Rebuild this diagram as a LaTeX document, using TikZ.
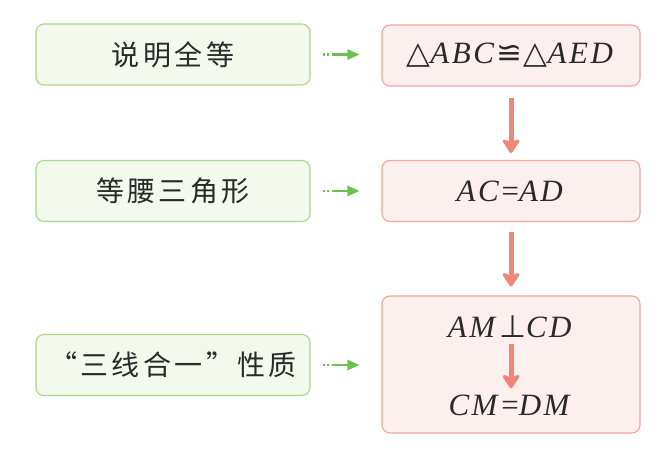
\documentclass[tikz,border=0pt]{standalone}
\usepackage{fontspec}
\setmainfont{Liberation Serif}[LetterSpace=8]
\newfontfamily\cjk{Noto Sans CJK SC}[LetterSpace=12]
\newfontfamily\sym{DejaVu Sans}[LetterSpace=4]
\usetikzlibrary{arrows.meta}
\definecolor{gfill}{HTML}{F3F9EC}
\definecolor{gline}{HTML}{A8D88A}
\definecolor{rfill}{HTML}{FCF0EE}
\definecolor{rline}{HTML}{F2A59A}
\definecolor{rarrow}{HTML}{F2857A}
\definecolor{garrow}{HTML}{6CC050}
\definecolor{ink}{HTML}{2A2A2A}
\tikzset{
  gbox/.style={draw=gline, fill=gfill, line width=1.1pt, rounded corners=8pt,
    minimum width=274pt, minimum height=61pt, inner sep=0pt, text=ink,
    font=\cjk\fontsize{28}{30}\selectfont},
  rbox/.style={draw=rline, fill=rfill, line width=1.1pt, rounded corners=8pt,
    minimum width=258pt, minimum height=61pt, inner sep=0pt, text=ink,
    font=\fontsize{31}{34}\selectfont},
  mtext/.style={inner sep=0pt, text=ink, font=\fontsize{31}{34}\selectfont},
  redarrow/.style={draw=rarrow, line width=5pt,
    -{Stealth[width=21pt,length=16pt,inset=4pt,round]}},
  greenarrow/.style={draw=garrow, line width=2.5pt,
    dash pattern=on 2pt off 2.5pt on 2pt off 3pt on 30pt off 60pt,
    -{Triangle[width=10pt,length=12pt]}, shorten <=12pt, shorten >=22pt},
}
\begin{document}
\begin{tikzpicture}[x=1pt,y=-1pt]
\useasboundingbox (0,0) rectangle (669,465);
\node[gbox] (g1) at (173,54.5) {说明全等};
\node[gbox] (g2) at (173,191) {等腰三角形};
\node[gbox] (g3) at (173,365) {“三线合一”性质};
\node[rbox] (r1) at (511,55.5) {{\sym △}\textit{ABC}{\sym ≌△}\textit{AED}};
\node[rbox] (r2) at (511,191) {\textit{AC}=\textit{AD}};
\node[rbox, minimum height=137pt] (r3) at (511,364.5) {};
\node[mtext] (am) at (511,327) {\textit{AM}{\sym ⊥}\textit{CD}};
\node[mtext] (cm) at (511,405) {\textit{CM}=\textit{DM}};
\draw[redarrow, shorten <=11pt, shorten >=7pt] (r1.south) -- (r2.north);
\draw[redarrow, shorten <=10pt, shorten >=9pt] (r2.south) -- (r3.north);
\draw[redarrow, shorten <=6pt, shorten >=6pt] (am.south) -- (cm.north);
\draw[greenarrow] (g1.east) -- (r1.west |- g1.east);
\draw[greenarrow] (g2.east) -- (r2.west |- g2.east);
\draw[greenarrow] (g3.east) -- (r3.west |- g3.east);
\end{tikzpicture}
\end{document}
